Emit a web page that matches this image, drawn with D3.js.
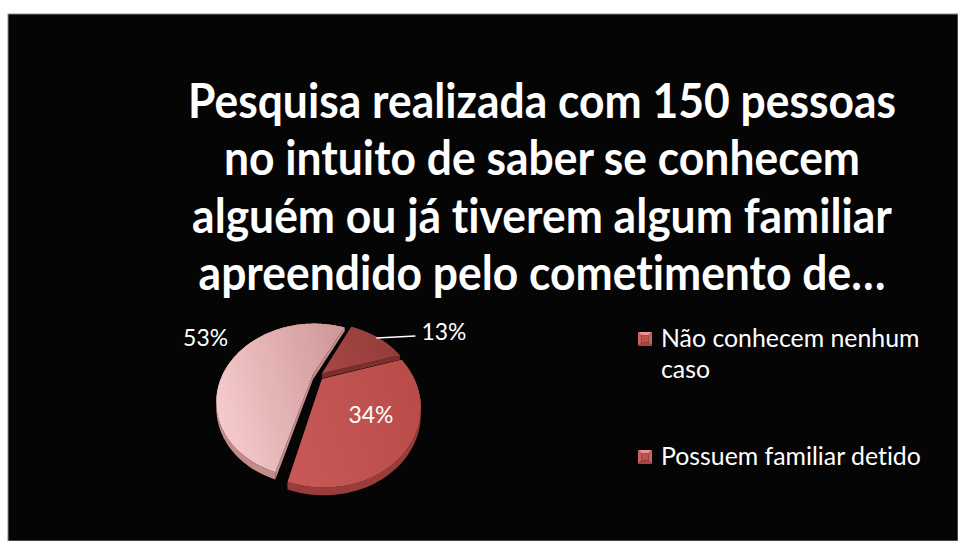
<!DOCTYPE html>
<html>
<head>
<meta charset="utf-8">
<script src="https://cdn.jsdelivr.net/npm/d3@7"></script>
<style>
  html, body { margin: 0; padding: 0; background: #ffffff; }
  svg { display: block; }
  text { font-variant-ligatures: none; font-feature-settings: "liga" 0, "clig" 0; }
</style>
</head>
<body>
<svg id="chart" width="958" height="541"></svg>
<script>
// ---------- data ----------
const titleLines = [
  "Pesquisa realizada com 150 pessoas",
  "no intuito de saber se conhecem",
  "alguém ou já tiverem algum familiar",
  "apreendido pelo cometimento de…"
];
const categories = ["Conhecem alguém detido", "Não conhecem nenhum caso", "Possuem familiar detido"];
const values = [13, 34, 53];
const valueLabels = ["13%", "34%", "53%"];
const legendLabels = [["Não conhecem nenhum", "caso"], ["Possuem familiar detido"]];

// ---------- styles / layout ----------
const topColors  = [["#a44644", "#933c3a"], ["#c75855", "#b94c49"], ["#f6cacb", "#d09a9b"]];
const sideColors = ["#7a2f2d", "#9a3d3a", "#c28c8d"];
const W = 958, H = 541;
const CX = 318, CY = 376, R = 91, S = 0.76, P = 0.34, TH = 5, EXPL = 0.06;
const START = 26 * Math.PI / 180;
const FONT = "Lato, 'Open Sans', 'DejaVu Sans', sans-serif";

const svg = d3.select("#chart");
const defs = svg.append("defs");

// frame
svg.append("rect").attr("x", 8).attr("y", 14).attr("width", W - 8).attr("height", H - 14)
  .attr("fill", "#050505").attr("stroke", "#8a8a8a").attr("stroke-width", 1);

function measure(text, weight, size) {
  const t = svg.append("text").attr("font-family", FONT).attr("font-weight", weight)
    .attr("font-size", size).text(text);
  const w = t.node().getComputedTextLength();
  t.remove();
  return w;
}
function fitSize(text, weight, targetW, base) {
  return base * targetW / measure(text, weight, base);
}

// ---------- title (slightly condensed, like the original's narrow face) ----------
const titleSize = fitSize(titleLines[0], 700, 708, 40) * 1.08;
const squeeze = 708 / measure(titleLines[0], 700, titleSize);
const titleY = d3.scaleLinear().domain([0, titleLines.length - 1]).range([118, 290]);
svg.append("g").attr("transform", `translate(542,0) scale(${squeeze},1)`)
  .selectAll("text").data(titleLines).join("text")
  .attr("x", 0).attr("y", (d, i) => titleY(i))
  .attr("text-anchor", "middle").attr("fill", "#ffffff")
  .attr("font-family", FONT).attr("font-weight", 700).attr("font-size", titleSize)
  .text(d => d);

// ---------- pie ----------
const pie = d3.pie().sort(null).value(d => d)
  .startAngle(START).endAngle(START + 2 * Math.PI);
const arcs = pie(values);

function proj(u, v, z) {
  const w = 1 / (1 - P * v);
  return [CX + R * u * w, CY + (R * S * v + TH * z) * w];
}
function rim(a, r) { return [r * Math.sin(a), -r * Math.cos(a)]; }

function slicePts(d) {
  const m = (d.startAngle + d.endAngle) / 2;
  const [ox, oy] = rim(m, EXPL);
  const n = Math.max(8, Math.ceil((d.endAngle - d.startAngle) / 0.03));
  const pts = [];
  for (let k = 0; k <= n; k++) {
    const a = d.startAngle + (d.endAngle - d.startAngle) * k / n;
    const [u, v] = rim(a, 1);
    pts.push([u + ox, v + oy]);
  }
  return { center: [ox, oy], rimPts: pts };
}
const line = d3.line();

arcs.forEach((d, i) => {
  const g = defs.append("linearGradient").attr("id", "grad" + i)
    .attr("x1", "0%").attr("y1", "60%").attr("x2", "100%").attr("y2", "30%");
  g.append("stop").attr("offset", "0%").attr("stop-color", topColors[i][0]);
  g.append("stop").attr("offset", "100%").attr("stop-color", topColors[i][1]);
});

const gPie = svg.append("g");
const order = arcs.map((d, i) => i).sort((a, b) => {
  const ma = (arcs[a].startAngle + arcs[a].endAngle) / 2;
  const mb = (arcs[b].startAngle + arcs[b].endAngle) / 2;
  return -Math.cos(ma) - -Math.cos(mb);
});
order.forEach(i => {
  const d = arcs[i];
  const { center, rimPts } = slicePts(d);
  [rimPts[0], rimPts[rimPts.length - 1]].forEach(p => {
    const poly = [proj(center[0], center[1], 0), proj(p[0], p[1], 0), proj(p[0], p[1], 1), proj(center[0], center[1], 1)];
    gPie.append("path").attr("d", line(poly) + "Z").attr("fill", sideColors[i]);
  });
  const poly = rimPts.map(p => proj(p[0], p[1], 0)).concat(rimPts.slice().reverse().map(p => proj(p[0], p[1], 1)));
  gPie.append("path").attr("d", line(poly) + "Z").attr("fill", sideColors[i]);
});
arcs.forEach((d, i) => {
  const { center, rimPts } = slicePts(d);
  const poly = [proj(center[0], center[1], 0)].concat(rimPts.map(p => proj(p[0], p[1], 0)));
  gPie.append("path").attr("d", line(poly) + "Z").attr("fill", "url(#grad" + i + ")");
});

// ---------- data labels ----------
const labelSize = fitSize("53%", 400, 45, 20);
const labelMode = ["leader", "inside", "outside"];
arcs.forEach((d, i) => {
  const m = (d.startAngle + d.endAngle) / 2;
  const [ox, oy] = rim(m, EXPL);
  const lbl = svg.append("text").attr("fill", "#fff").attr("dy", "0.35em")
    .attr("font-family", FONT).attr("font-size", labelSize).text(valueLabels[i]);
  if (labelMode[i] === "inside") {
    const [u, v] = rim(m, 0.62);
    const [x, y] = proj(u + ox, v + oy, 0);
    lbl.attr("x", x).attr("y", y).attr("text-anchor", "middle");
  } else if (labelMode[i] === "leader") {
    const [u, v] = rim(m, 0.98);
    const [x, y] = proj(u + ox, v + oy, 0);
    const x2 = x + 39;
    svg.append("path").attr("d", line([[x, y], [x2, y - 2]]))
      .attr("stroke", "#fff").attr("stroke-width", 1.5).attr("fill", "none");
    lbl.attr("x", x2 + 6).attr("y", y - 6);
  } else {
    const [u, v] = rim(m + 0.066, 1.62);
    const [x, y] = proj(u, v, 0);
    lbl.attr("x", x - 3).attr("y", y).attr("text-anchor", "middle");
  }
});

// ---------- legend ----------
const legendColors = [["#e99493", "#c9625f", "#a94643", "#c2524f"], ["#e99493", "#c9625f", "#a94643", "#c2524f"]];
const legSize = fitSize(legendLabels[1][0], 400, 260, 20);
const legY = d3.scaleLinear().domain([0, 1]).range([339, 457]);
const gLeg = svg.append("g");
legendLabels.forEach((lines, i) => {
  const y = legY(i);
  const x0 = 638, y0 = y - 7, s = 14, b = 3.5;
  const c = legendColors[i];
  const sq = (pts, col) => gLeg.append("path").attr("d", line(pts) + "Z").attr("fill", col);
  sq([[x0, y0], [x0 + s, y0], [x0 + s - b, y0 + b], [x0 + b, y0 + b]], c[0]);
  sq([[x0, y0], [x0 + b, y0 + b], [x0 + b, y0 + s - b], [x0, y0 + s]], c[1]);
  sq([[x0 + s, y0], [x0 + s, y0 + s], [x0 + s - b, y0 + s - b], [x0 + s - b, y0 + b]], c[1]);
  sq([[x0, y0 + s], [x0 + b, y0 + s - b], [x0 + s - b, y0 + s - b], [x0 + s, y0 + s]], c[2]);
  gLeg.append("rect").attr("x", x0 + b).attr("y", y0 + b).attr("width", s - 2 * b).attr("height", s - 2 * b).attr("fill", c[3]);
  lines.forEach((t, k) => {
    gLeg.append("text").attr("x", 661).attr("y", y + 8 + k * 31)
      .attr("fill", "#fff").attr("font-family", FONT).attr("font-size", legSize).text(t);
  });
});
</script>
</body>
</html>
